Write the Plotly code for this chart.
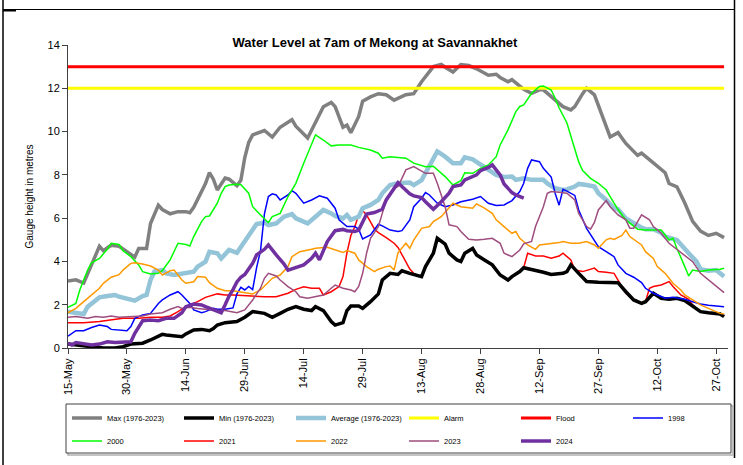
import pandas as pd
import plotly.graph_objects as go

START = pd.Timestamp("2024-05-15")
END_DAY = 168

tick_days = [0, 15, 30, 45, 60, 75, 90, 105, 120, 135, 150, 165]
tick_labels = ["15-May", "30-May", "14-Jun", "29-Jun", "14-Jul", "29-Jul",
               "13-Aug", "28-Aug", "12-Sep", "27-Sep", "12-Oct", "27-Oct"]

alarm_level = 12.0
flood_level = 13.0
level_days = [0, 167]

max_days = [0,2,4,6,8,9,11,13,16,17,18,20,21,23,24,26,28,30,31,32,35,36,37,38,40,41,43,44,45,46,47,50,52,54,57,58,61,63,65,67,68,70,71,72,74,75,77,79,81,83,86,88,90,93,95,96,98,100,102,104,107,109,110,112,113,114,116,118,120,121,124,126,128,129,131,132,134,136,138,140,142,145,146,149,152,153,155,157,159,161,163,165,167]
max_vals = [3.1,3.15,3.0,3.9,4.7,4.5,4.75,4.7,4.3,4.2,4.6,4.6,5.75,6.6,6.4,6.2,6.3,6.3,6.25,6.5,7.6,8.1,7.8,7.3,7.85,7.8,7.5,7.75,8.8,9.5,9.85,10.05,9.75,10.2,10.55,10.25,9.7,10.4,11.15,11.35,11.15,10.2,10.3,9.95,10.7,11.4,11.6,11.75,11.7,11.45,11.7,11.75,12.3,13.0,13.1,12.97,12.75,13.1,13.05,12.9,12.6,12.65,12.5,12.3,12.4,12.25,11.95,11.77,11.93,11.93,11.45,11.15,11.0,11.15,11.75,12.0,11.7,10.7,9.75,9.95,9.45,8.9,9.0,8.55,8.1,7.6,7.45,6.7,5.85,5.4,5.2,5.3,5.1]

min_days = [0,2,4,7,9,12,14,16,19,21,24,25,27,29,30,32,34,36,37,38,40,43,45,47,50,52,54,56,58,60,62,63,65,67,68,70,71,72,74,75,77,79,80,82,84,85,87,88,90,91,93,94,96,97,99,100,101,103,104,106,108,110,112,113,115,116,118,121,123,126,127,128,130,132,135,137,140,142,144,146,147,149,151,153,155,157,159,161,163,166,167]
min_vals = [0.18,0.14,0.09,0.0,0.0,0.0,0.06,0.18,0.22,0.37,0.63,0.6,0.55,0.52,0.65,0.83,0.86,0.8,0.9,1.06,1.17,1.22,1.42,1.68,1.6,1.42,1.6,1.79,1.91,1.79,1.73,1.91,1.73,1.22,1.06,1.17,1.73,1.94,1.94,1.83,2.14,2.5,3.14,3.45,3.4,3.57,3.45,3.4,3.3,3.76,4.38,5.07,4.8,4.38,4.07,4.0,4.38,4.6,4.3,4.07,3.84,3.37,3.14,3.3,3.53,3.71,3.64,3.5,3.4,3.45,3.53,3.84,3.45,3.07,3.04,3.04,3.02,2.6,2.22,2.06,2.14,2.53,2.3,2.25,2.3,2.19,1.91,1.68,1.63,1.57,1.45]

avg_days = [0,2,4,5,8,10,12,13,15,17,19,20,21,22,24,25,27,29,30,32,33,35,36,38,39,41,43,44,46,48,50,51,53,55,57,58,61,63,65,67,68,70,71,72,74,75,77,79,80,82,84,87,88,90,92,94,96,98,100,101,103,105,107,109,111,113,114,116,118,121,122,124,126,127,129,130,132,134,135,137,139,140,142,144,146,147,149,151,152,155,156,158,160,161,163,165,166,167]
avg_vals = [1.68,1.63,1.57,1.91,2.34,2.4,2.45,2.37,2.3,2.19,2.4,2.45,3.14,3.53,3.6,3.45,3.37,3.42,3.45,3.53,3.76,3.99,4.45,4.38,4.14,4.53,4.4,4.68,5.15,5.73,5.79,5.68,5.76,6.07,6.19,5.99,5.76,6.07,6.38,6.22,6.1,5.99,6.15,5.92,6.07,6.46,6.61,6.84,7.15,7.53,7.61,7.65,7.53,7.76,8.46,9.08,8.84,8.54,8.54,8.81,8.72,8.46,8.23,8.0,7.9,7.92,7.77,7.84,7.77,7.77,7.6,7.38,7.3,7.33,7.46,7.58,7.53,7.46,7.15,6.84,6.46,6.41,5.99,5.76,5.56,5.49,5.49,5.33,5.15,4.99,4.76,4.38,3.99,3.64,3.57,3.6,3.45,3.3]

y1998_days = [0,2,4,6,8,10,11,13,15,16,17,19,21,23,24,26,28,29,31,32,34,35,37,38,40,42,43,44,45,46,47,48,49,50,51,52,53,54,56,57,58,60,62,64,66,68,69,71,73,74,75,77,79,80,82,84,85,87,88,90,91,92,94,96,98,100,103,105,107,109,111,113,115,116,117,118,120,121,123,124,125,126,127,129,130,132,134,135,137,139,140,142,144,146,147,149,151,152,154,156,157,159,161,163,166,167]
y1998_vals = [0.55,0.8,0.8,0.95,1.06,0.99,0.86,0.83,0.8,0.99,1.37,1.53,1.6,2.06,2.22,2.45,2.6,2.45,2.06,1.76,1.63,1.68,1.83,1.79,1.79,1.85,2.5,2.8,2.68,2.84,2.7,3.7,4.5,6.2,7.0,7.12,7.07,6.84,7.07,7.27,7.15,6.69,6.84,7.03,6.92,6.46,5.92,5.61,5.61,5.49,5.04,5.22,5.72,5.64,5.45,5.38,5.42,5.92,6.53,6.92,7.18,7.07,6.69,6.53,6.61,6.76,6.87,7.0,6.69,6.58,6.61,6.81,7.23,7.61,8.3,8.69,8.61,8.3,7.9,7.15,6.6,7.33,7.25,7.05,6.38,5.53,4.99,4.68,4.45,4.22,3.84,3.45,3.27,3.02,2.76,2.53,2.38,2.3,2.34,2.3,2.25,2.14,2.03,1.97,1.91,1.91]

y2000_days = [0,2,3,5,6,8,10,11,13,14,16,18,19,21,23,24,26,28,30,31,32,34,35,36,38,39,40,41,43,44,46,47,49,51,52,54,56,58,60,62,63,65,67,69,72,74,77,79,80,82,84,86,88,91,93,94,96,98,100,101,103,105,107,109,110,112,114,115,116,118,120,121,123,124,125,127,129,130,131,133,135,137,139,140,142,144,145,147,151,153,154,155,156,157,158,159,161,163,166,167]
y2000_vals = [1.88,2.06,2.68,3.6,3.94,4.14,4.56,4.84,4.78,4.5,4.22,3.84,3.53,3.42,3.45,3.57,4.07,4.84,4.78,4.71,5.15,5.84,6.07,6.1,6.69,7.15,7.46,7.53,7.57,7.54,7.15,6.53,6.15,5.79,6.07,6.22,7.0,7.61,8.54,9.46,9.85,9.61,9.34,9.38,9.38,9.27,9.15,9.0,8.77,8.84,8.79,8.77,8.54,8.38,8.4,8.23,7.92,7.53,7.73,8.1,8.07,8.3,8.46,8.84,9.38,10.08,10.92,11.16,11.23,11.77,12.08,12.11,11.92,11.54,11.1,10.4,9.2,8.6,8.2,7.84,7.61,7.3,6.69,6.4,5.92,5.61,5.49,5.45,5.45,4.99,5.07,4.6,4.22,3.76,3.33,3.6,3.53,3.6,3.64,3.68]

y2021_days = [0,4,8,11,14,18,21,24,26,28,30,33,35,38,40,42,46,50,53,56,58,60,62,64,65,67,69,70,71,72,73,74,75,76,78,79,81,82,83,84,85,86,87,88,90,91,93,94,96,97,99,100,101,103,104,106,108,110,112,113,115,116,117,119,121,123,125,126,128,129,131,134,135,137,139,140,142,144,146,147,148,149,151,153,154,156,158,159,161,163,166,167]
y2021_vals = [1.17,1.17,1.22,1.29,1.37,1.37,1.42,1.42,1.48,1.68,1.91,2.14,2.34,2.5,2.45,2.45,2.4,2.37,2.37,2.53,2.71,2.83,2.76,2.76,2.45,2.6,2.84,3.3,4.4,5.2,5.6,6.15,6.35,6.15,5.5,5.33,5.1,4.99,4.84,4.65,4.3,4.0,3.65,3.45,3.3,3.76,4.38,5.07,4.8,4.38,4.07,4.0,4.38,4.6,4.3,4.07,3.84,3.37,3.14,3.3,3.53,3.71,4.38,4.25,4.25,4.15,4.25,4.38,4.07,3.6,3.53,3.69,3.53,3.5,3.45,3.14,2.53,2.22,2.06,2.14,2.76,2.84,2.91,3.07,2.84,2.45,2.25,1.99,1.68,1.63,1.6,1.53]

y2022_days = [0,2,4,6,8,9,11,13,14,16,17,19,21,23,24,26,27,29,30,32,33,35,36,38,40,42,44,45,47,49,51,52,54,56,57,59,62,63,66,68,70,71,73,74,76,78,79,81,82,83,84,86,87,88,90,92,93,95,97,98,100,103,104,106,108,109,111,113,114,115,117,119,120,123,125,126,128,130,132,134,135,137,138,139,141,142,143,146,147,149,150,152,154,156,157,159,161,163,165,166,167]
y2022_vals = [1.63,1.83,2.14,2.45,2.76,2.99,3.27,3.39,3.6,3.91,3.94,3.88,3.79,3.6,3.37,3.57,3.6,3.14,2.99,3.06,3.3,3.27,3.02,2.76,2.65,2.65,2.6,2.57,2.5,2.68,3.07,3.22,3.37,3.76,4.22,4.45,4.56,4.61,4.65,4.53,4.41,4.5,4.38,4.07,3.76,3.53,3.64,3.76,3.79,3.6,4.4,4.84,4.61,4.99,5.53,5.61,5.84,6.07,6.46,6.69,6.53,6.46,6.66,6.46,6.22,5.92,5.61,5.3,5.38,5.07,4.76,4.56,4.76,4.81,4.87,4.92,4.84,4.84,4.92,4.76,4.61,5.0,5.07,5.02,5.2,5.45,5.15,4.76,4.45,4.14,3.76,3.45,2.99,2.68,2.45,2.22,1.99,1.83,1.68,1.6,1.57]

y2023_days = [0,2,5,7,9,11,13,16,19,21,24,26,28,29,31,33,35,36,38,40,42,43,45,47,49,50,51,53,54,56,58,59,61,63,65,67,68,70,72,73,74,75,76,77,79,80,81,83,84,85,86,88,90,91,93,94,96,97,99,100,102,104,106,108,110,111,113,115,116,118,119,121,122,123,125,127,129,130,132,133,134,135,137,138,140,142,143,144,146,148,149,151,153,155,157,159,161,163,165,167]
y2023_vals = [1.42,1.45,1.37,1.45,1.42,1.48,1.42,1.45,1.48,1.57,1.63,1.79,1.91,1.83,1.88,1.83,1.79,1.76,1.73,1.73,1.68,1.63,1.76,2.22,2.76,3.22,3.45,3.33,3.14,2.84,2.6,2.37,2.3,2.37,2.45,2.76,2.91,2.76,2.68,2.6,2.84,3.45,4.38,5.07,5.61,6.22,6.84,7.38,7.46,7.84,8.23,8.38,8.15,8.07,8.07,7.61,6.53,5.69,5.61,5.38,5.02,4.99,5.02,5.07,4.84,4.38,4.22,4.53,4.81,4.92,5.61,6.53,7.15,7.23,7.2,7.15,6.84,6.22,5.61,5.49,5.8,6.38,6.81,6.53,6.15,5.92,5.53,5.53,6.15,5.92,5.61,5.3,4.84,4.56,4.3,3.99,3.45,3.14,2.84,2.56]

y2024_days = [0,1,2,4,6,8,10,12,14,16,17,19,21,23,25,27,29,30,32,34,35,37,39,40,41,42,43,44,45,47,48,50,51,53,55,56,58,60,62,63,64,66,68,70,71,73,74,76,78,80,81,83,84,85,87,88,90,91,93,95,97,98,100,101,104,105,107,108,110,111,113,114,116]
y2024_vals = [0.22,0.14,0.25,0.18,0.14,0.18,0.29,0.25,0.25,0.29,0.68,1.26,1.29,1.26,1.37,1.37,1.63,1.91,2.03,1.99,1.91,1.79,1.63,2.0,2.4,2.7,3.05,3.27,3.4,3.91,4.3,4.56,4.76,4.3,3.88,3.6,3.74,3.84,4.14,4.38,4.07,4.92,5.42,5.48,5.42,5.38,5.45,6.19,6.26,6.41,6.84,7.38,7.64,7.46,7.12,7.03,6.95,6.76,6.41,6.76,7.15,7.46,7.53,7.77,8.0,8.2,8.34,8.46,8.0,7.58,7.18,7.07,6.92]


def to_dates(days):
    return [START + pd.Timedelta(days=d) for d in days]


# (name, days, values, colour, width, legend, rank)
series = [
    ("Max (1976-2023)", max_days, max_vals, "#808080", 3.5, "legend", 1),
    ("Alarm", level_days, [alarm_level] * 2, "#FFFF00", 3, "legend3", 1),
    ("Flood", level_days, [flood_level] * 2, "#FF0000", 3, "legend3", 2),
    ("2021", y2021_days, y2021_vals, "#FF0000", 1.5, "legend2", 2),
    ("Min (1976-2023)", min_days, min_vals, "#000000", 3.5, "legend", 2),
    ("Average (1976-2023)", avg_days, avg_vals, "#93C4D8", 4.5, "legend", 3),
    ("1998", y1998_days, y1998_vals, "#0000FF", 1.5, "legend3", 3),
    ("2000", y2000_days, y2000_vals, "#00FF00", 1.5, "legend2", 1),
    ("2022", y2022_days, y2022_vals, "#FF9900", 1.5, "legend2", 3),
    ("2023", y2023_days, y2023_vals, "#9E4D7E", 1.5, "legend4", 1),
    ("2024", y2024_days, y2024_vals, "#7030A0", 3.5, "legend4", 2),
]

fig = go.Figure()
for name, days, vals, color, width, leg, rank in series:
    fig.add_trace(go.Scatter(
        x=to_dates(days), y=vals, mode="lines", name=name,
        line=dict(color=color, width=width),
        legend=leg, legendrank=rank, hoverinfo="skip",
    ))

# layout geometry (pixels)
W, H = 743, 465
L, R, T, B = 68, 15, 45, 117
PW, PH = W - L - R, H - T - B


def px(X):
    return (X - L) / PW


def py(Y):
    return (H - B - Y) / PH


shapes = [
    # outer frame
    dict(type="line", xref="paper", yref="paper", x0=px(3), x1=px(3), y0=py(0), y1=py(465),
         line=dict(color="black", width=1.5)),
    dict(type="line", xref="paper", yref="paper", x0=px(734.5), x1=px(734.5), y0=py(0), y1=py(458),
         line=dict(color="black", width=1.5)),
    dict(type="line", xref="paper", yref="paper", x0=px(3), x1=px(734.5), y0=py(9.5), y1=py(9.5),
         line=dict(color="black", width=1.2)),
    dict(type="line", xref="paper", yref="paper", x0=px(3), x1=px(16), y0=py(10.5), y1=py(10.5),
         line=dict(color="black", width=2)),
    # legend box shadow + box
    dict(type="rect", xref="paper", yref="paper", x0=px(68), x1=px(733), y0=py(406), y1=py(455),
         line=dict(color="#B0B0B0", width=1.5), fillcolor="rgba(0,0,0,0)"),
    dict(type="rect", xref="paper", yref="paper", x0=px(66), x1=px(731), y0=py(404), y1=py(453),
         line=dict(color="#404040", width=1), fillcolor="white"),
]

legend_common = dict(
    orientation="h", xref="paper", yref="paper", xanchor="left", yanchor="middle",
    entrywidth=67, entrywidthmode="pixels", font=dict(size=7.5, color="black"),
    bgcolor="rgba(0,0,0,0)", borderwidth=0, itemclick=False, itemdoubleclick=False,
    traceorder="normal",
)
row1_y, row2_y = 418, 441
col1_x, col4_x = 67, 404

fig.update_layout(
    width=W, height=H,
    margin=dict(l=L, r=R, t=T, b=B, pad=0, autoexpand=False),
    paper_bgcolor="white", plot_bgcolor="white",
    font=dict(family="Liberation Sans, Arial, sans-serif", size=11, color="black"),
    title=dict(text="<b>Water Level at 7am of Mekong at Savannakhet</b>",
               x=375 / W, xanchor="center", y=1 - 42 / H, yanchor="middle",
               font=dict(size=13, color="black")),
    xaxis=dict(
        type="date", range=[START, START + pd.Timedelta(days=END_DAY)],
        tickmode="array", tickvals=to_dates(tick_days), ticktext=tick_labels,
        tickangle=-90, ticks="outside", ticklen=5, tickcolor="#404040",
        showline=True, linecolor="#404040", linewidth=1, showgrid=False, zeroline=False,
        tickfont=dict(size=11),
    ),
    yaxis=dict(
        range=[0, 14], dtick=2, tick0=0, ticks="outside", ticklen=5, tickcolor="#404040",
        showline=True, linecolor="#404040", linewidth=1, showgrid=False, zeroline=False,
        tickfont=dict(size=11),
        title=dict(text="Gauge height in metres", font=dict(size=10), standoff=12),
    ),
    legend=dict(x=px(col1_x), y=py(row1_y), **legend_common),
    legend3=dict(x=px(col4_x), y=py(row1_y), **legend_common),
    legend2=dict(x=px(col1_x), y=py(row2_y), **legend_common),
    legend4=dict(x=px(col4_x), y=py(row2_y), **legend_common),
    shapes=shapes,
    showlegend=True,
)

fig.write_html("out.html", config={"displayModeBar": False},
               post_script="document.body.style.margin='0px';")
